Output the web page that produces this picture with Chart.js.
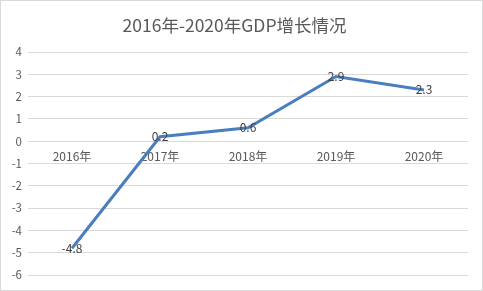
<!DOCTYPE html>
<html>
<head>
<meta charset="utf-8">
<script src="https://cdn.jsdelivr.net/npm/chart.js@4/dist/chart.umd.min.js"></script>
<style>
  html, body { margin: 0; padding: 0; background: #fff; }
  #wrap { width: 483px; height: 291px; box-sizing: border-box; border: 1px solid #d9d9d9; position: relative; }
  canvas { display: block; }
</style>
</head>
<body>
<div id="wrap"><canvas id="chart" width="481" height="289"></canvas></div>
<script>
  const TITLE = "2016年-2020年GDP增长情况";
  const YEARS = ["2016年", "2017年", "2018年", "2019年", "2020年"];
  const GROWTH = [-4.8, 0.2, 0.6, 2.9, 2.3];
  const Y_MIN = -6;
  const Y_MAX = 4;

  const FONT = "'Noto Sans CJK SC', 'DejaVu Sans', sans-serif";

  // draws the value on top of each point, centred
  const pointLabels = {
    id: "pointLabels",
    afterDatasetsDraw(chart) {
      const ctx = chart.ctx;
      const meta = chart.getDatasetMeta(0);
      ctx.save();
      ctx.font = "12px " + FONT;
      ctx.fillStyle = "#404040";
      ctx.textAlign = "center";
      ctx.textBaseline = "middle";
      meta.data.forEach((pt, i) => {
        ctx.fillText(String(GROWTH[i]), pt.x, pt.y);
      });
      ctx.restore();
    },
  };

  new Chart(document.getElementById("chart"), {
    type: "line",
    data: {
      labels: YEARS,
      datasets: [
        {
          data: GROWTH,
          borderColor: "#4a7ebf",
          borderWidth: 3,
          pointRadius: 0,
          tension: 0,
        },
      ],
    },
    options: {
      responsive: false,
      animation: false,
      layout: { padding: { left: 0, right: 14, top: 14, bottom: 15 } },
      plugins: {
        legend: { display: false },
        tooltip: { enabled: false },
        title: {
          display: true,
          text: TITLE,
          color: "#595959",
          font: { size: 17.5, family: FONT, weight: "normal" },
          padding: { top: 0, bottom: 16 },
        },
      },
      scales: {
        x: {
          position: { y: 0 },
          offset: true,
          grid: { display: false },
          border: { display: false },
          ticks: { color: "#595959", font: { size: 12, family: FONT }, padding: 0, maxRotation: 0 },
          afterFit(scale) { scale.height = 0; },
        },
        y: {
          min: Y_MIN,
          max: Y_MAX,
          grid: { color: "#d9d9d9", drawTicks: false },
          border: { display: false },
          ticks: { stepSize: 1, color: "#595959", font: { size: 11.5, family: FONT }, padding: 6 },
          afterFit(scale) { scale.width = 27; },
        },
      },
    },
    plugins: [pointLabels],
  });
</script>
</body>
</html>
